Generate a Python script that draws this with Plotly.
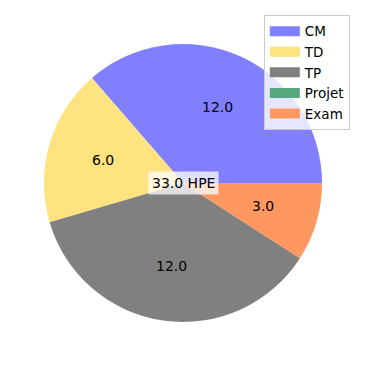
import math
import plotly.graph_objects as go

labels = ["CM", "TD", "TP", "Projet", "Exam"]
values = [12.0, 6.0, 12.0, 0.0, 3.0]
colors = ["#8080ff", "#ffe380", "#808080", "#59a97f", "#ff9860"]
unit = "HPE"

total = sum(values)
# plotly's counterclockwise pies put the first slice's clockwise edge at `rotation`;
# matplotlib starts the first slice at 3 o'clock and goes counterclockwise.
rotation = 90 - values[0] / total * 360

fig = go.Figure()
fig.add_trace(go.Pie(
    labels=labels, values=values, sort=False, direction="counterclockwise",
    rotation=rotation, marker=dict(colors=colors, line=dict(width=0)),
    textinfo="none", showlegend=False, hoverinfo="label+value",
))

# legend entries as wide patches
for lab, col in zip(labels, colors):
    fig.add_trace(go.Scatter(x=[None], y=[None], mode="lines", name=lab,
                             line=dict(color=col, width=10), showlegend=True))

# value labels at 0.6 radius, like matplotlib autopct
ann = []
cum = 0.0
for v in values:
    if v > 0:
        mid = (cum + v / 2) / total * 2 * math.pi
        ann.append(dict(x=0.5 + 0.3 * math.cos(mid), y=0.5 + 0.3 * math.sin(mid),
                        xref="paper", yref="paper", xanchor="center", yanchor="middle",
                        text=f"{v:.1f}", showarrow=False,
                        font=dict(family="DejaVu Sans", size=14, color="black")))
    cum += v
ann.append(dict(x=0.5, y=0.5, xref="paper", yref="paper", xanchor="center", yanchor="middle",
                text=f"{total:.1f} {unit}",
                showarrow=False, bgcolor="rgba(255,255,255,0.75)", borderpad=3,
                font=dict(family="DejaVu Sans", size=14, color="black")))

fig.update_layout(
    width=366, height=366, margin=dict(l=36, r=52, t=36, b=52, autoexpand=False),
    paper_bgcolor="white", plot_bgcolor="white",
    xaxis=dict(visible=False), yaxis=dict(visible=False),
    annotations=ann,
    legend=dict(x=0.934, y=0.981, xref="container", yref="container",
                xanchor="right", yanchor="top",
                bgcolor="rgba(255,255,255,0.8)", bordercolor="#cccccc", borderwidth=1,
                font=dict(family="DejaVu Sans", size=13.5, color="black"),
                tracegroupgap=0, itemwidth=30),
)
fig.write_html("out.html")
